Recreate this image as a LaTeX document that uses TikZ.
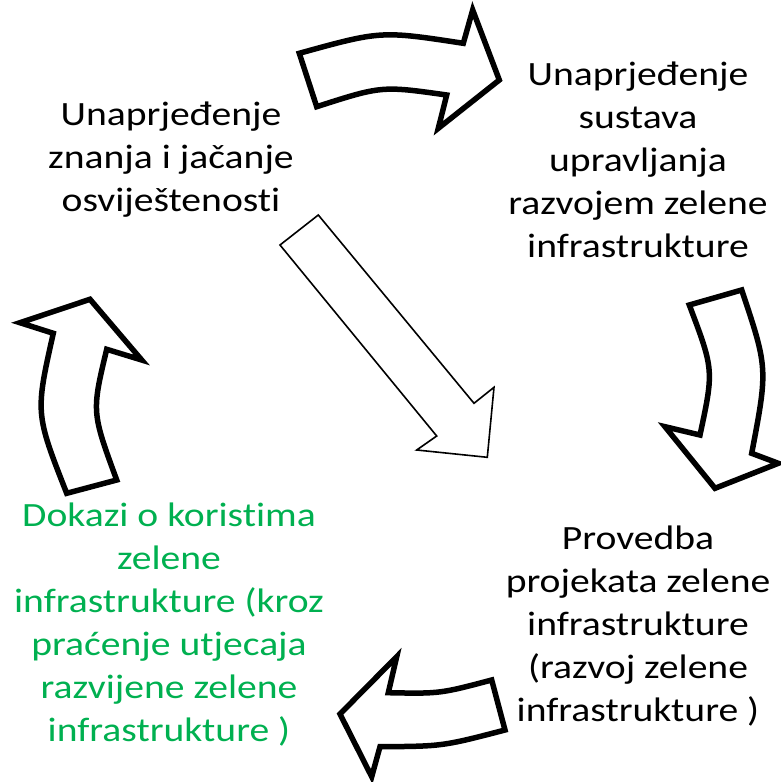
\documentclass[tikz,border=0pt]{standalone}
\usepackage{fontspec}
\setmainfont{Carlito}[FakeStretch=1.165, Ligatures=NoCommon]
\definecolor{evgreen}{RGB}{0,176,80}
\tikzset{
  bigarrow/.style={draw=black, fill=white, line width=5.5pt, line join=miter},
  thinarrow/.style={draw=black, fill=white, line width=1.6pt, line join=miter},
  lbl/.style={align=center, inner sep=0pt, font=\fontsize{34}{43}\selectfont}
}
\begin{document}
\begin{tikzpicture}[x=1pt, y=-1pt]
\useasboundingbox (0,0) rectangle (780,782);
% texts
\node[lbl] (knowledge) at (171,160) {Unaprjeđenje\\znanja i jačanje\\osviještenosti};
\node[lbl] (management) at (638,160) {Unaprjeđenje\\sustava\\upravljanja\\razvojem zelene\\infrastrukture};
\node[lbl] (projects) at (638,626) {Provedba\\projekata zelene\\infrastrukture\\(razvoj zelene\\infrastrukture )};
\node[lbl, text=evgreen] (evidence) at (169,625) {Dokazi o koristima\\zelene\\infrastrukture (kroz\\praćenje utjecaja\\razvijene zelene\\infrastrukture )};
% top arrow
\draw[bigarrow] (299.3,53.3) .. controls (381,30.7) .. (463.3,43.3)
  -- (472.7,10) -- (499.3,80) -- (438.3,128.3) -- (446.7,95)
  .. controls (381.7,85.8) .. (316.7,106.7) -- cycle;
% right arrow
\draw[bigarrow] (689.3,305) -- (741.7,290) .. controls (767.9,368.3) .. (751.7,453.3)
  -- (778.3,463.3) -- (715,488.3) -- (665,426.7) -- (700,435)
  .. controls (713.9,370) .. (689.3,305) -- cycle;
% bottom arrow
\draw[bigarrow] (491.7,680) .. controls (440,693.7) .. (388.3,692.7)
  -- (396.7,656.7) -- (340,714) -- (371.7,776.7) -- (380,746.7)
  .. controls (442.5,746.3) .. (505,730) -- cycle;
% left arrow
\draw[bigarrow] (66.7,493.3) .. controls (35.3,413.3) .. (53.3,333.3)
  -- (20,322.7) -- (90,299.3) -- (141.7,360) -- (106.7,349.3)
  .. controls (91.7,412) .. (116.7,480) -- cycle;
% diagonal arrow
\draw[thinarrow] (318.3,215) -- (280,245) -- (436.7,436) -- (416.7,450)
  -- (487.3,457.3) -- (494,387.3) -- (474,403.3) -- cycle;
\end{tikzpicture}
\end{document}
